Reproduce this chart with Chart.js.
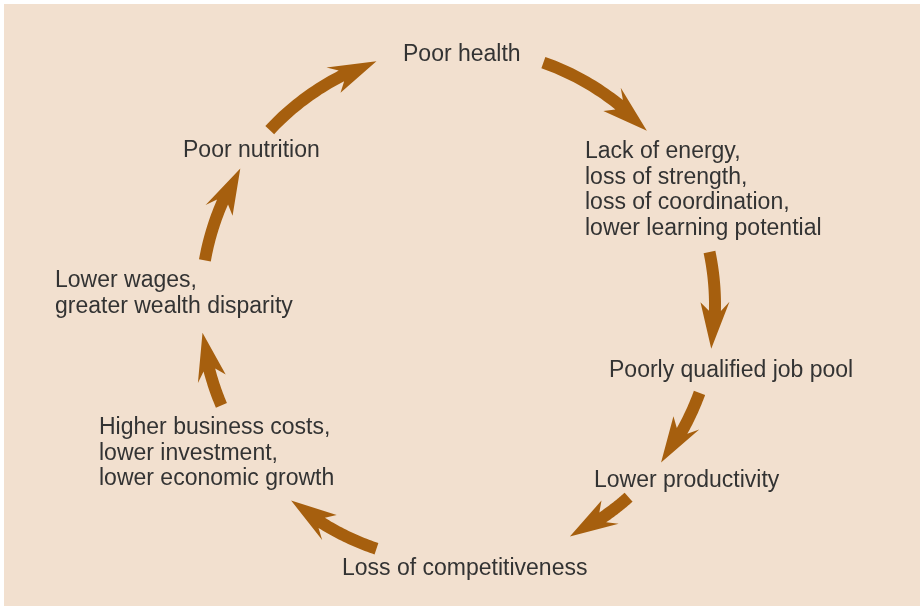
<!DOCTYPE html>
<html>
<head>
<meta charset="utf-8">
<script src="https://cdn.jsdelivr.net/npm/chart.js@4.4.1/dist/chart.umd.min.js"></script>
<style>
  html, body { margin: 0; padding: 0; background: #ffffff; overflow: hidden; }
  #wrap { width: 920px; height: 606px; }
  canvas { display: block; }
</style>
</head>
<body>
<div id="wrap"><canvas id="cycle" width="920" height="606"></canvas></div>
<script>
// steps of the cycle, one entry per label (lines)
const steps = [
    ['Poor health'],
    ['Lack of energy,', 'loss of strength,', 'loss of coordination,', 'lower learning potential'],
    ['Poorly qualified job pool'],
    ['Lower productivity'],
    ['Loss of competitiveness'],
    ['Higher business costs,', 'lower investment,', 'lower economic growth'],
    ['Lower wages,', 'greater wealth disparity'],
    ['Poor nutrition']
]
// label anchors (left edge, first baseline) in axis units
const labelX = [403, 585, 609, 594, 342, 99, 55, 183]
const labelY = [61, 158, 377, 487, 575, 434, 287, 157]

// arrows on the ring, start / end angle in degrees (0 = right, clockwise)
const arrowFrom = [-70.6, -11.9, 20.0, 48.4, 108.5, 157.0, 190.0, 222.9]
const arrowTo = [-42.7, 9.8, 37.8, 64.2, 130.5, 173.8, 212.1, 251.5]
const ringCenter = [458, 305]
const ringRadius = 257

const inkColor = '#a65f0e'
const textColor = '#333333'
const panelColor = '#f2e0cf'

const lineHeight = 25.5

function ringPoint(deg, r) {
    const a = deg * Math.PI / 180
    return { x: ringCenter[0] + r * Math.cos(a), y: ringCenter[1] + r * Math.sin(a) }
}

const cyclePlugin = {
    id: 'cycle',
    beforeDraw(chart) {
        const { ctx, scales: { x, y } } = chart
        ctx.save()
        ctx.fillStyle = '#ffffff'
        ctx.fillRect(0, 0, chart.width, chart.height)
        ctx.fillStyle = panelColor
        const x0 = x.getPixelForValue(4), y0 = y.getPixelForValue(4)
        ctx.fillRect(x0, y0, chart.width - x0, chart.height - y0)
        ctx.restore()
    },
    afterDatasetsDraw(chart) {
        const { ctx, scales: { x, y } } = chart
        const px = p => ({ x: x.getPixelForValue(p.x), y: y.getPixelForValue(p.y) })

        // arrows
        const half = 6, headLen = 47, headHalf = 14.5, notch = 9
        ctx.save()
        ctx.fillStyle = inkColor
        for (let i = 0; i < arrowFrom.length; i++) {
            const a0 = arrowFrom[i], a1 = arrowTo[i]
            const dir = Math.sign(a1 - a0)
            const degPerPx = 180 / (Math.PI * ringRadius)
            const aB = a1 - dir * headLen * degPerPx
            const aJ = a1 - dir * (headLen - notch) * degPerPx
            const tip = ringPoint(a1, ringRadius)
            const base = ringPoint(aB, ringRadius)
            const rad = aB * Math.PI / 180
            const nx = Math.cos(rad), ny = Math.sin(rad)

            const pts = []
            const n = 24
            for (let k = 0; k <= n; k++) pts.push(ringPoint(a0 + (aJ - a0) * k / n, ringRadius + half))
            pts.push({ x: base.x + nx * headHalf, y: base.y + ny * headHalf })
            pts.push(tip)
            pts.push({ x: base.x - nx * headHalf, y: base.y - ny * headHalf })
            for (let k = n; k >= 0; k--) pts.push(ringPoint(a0 + (aJ - a0) * k / n, ringRadius - half))

            ctx.beginPath()
            pts.forEach((p, k) => {
                const q = px(p)
                if (k == 0) ctx.moveTo(q.x, q.y)
                else ctx.lineTo(q.x, q.y)
            })
            ctx.closePath()
            ctx.fill()
        }
        ctx.restore()

        // labels
        const meta = chart.getDatasetMeta(0)
        ctx.save()
        ctx.fillStyle = textColor
        ctx.font = '23px "Liberation Sans", Arial, sans-serif'
        ctx.textAlign = 'left'
        ctx.textBaseline = 'alphabetic'
        meta.data.forEach((pt, i) => {
            steps[i].forEach((line, j) => {
                ctx.fillText(line, pt.x, pt.y + j * lineHeight)
            })
        })
        ctx.restore()
    }
}

new Chart(document.getElementById('cycle'), {
    type: 'scatter',
    data: {
        datasets: [{
            data: labelX.map((v, i) => ({ x: v, y: labelY[i] })),
            pointRadius: 0,
            pointHoverRadius: 0
        }]
    },
    options: {
        responsive: false,
        animation: false,
        events: [],
        layout: { padding: 0 },
        plugins: { legend: { display: false }, tooltip: { enabled: false } },
        scales: {
            x: { type: 'linear', min: 0, max: 920, display: false },
            y: { type: 'linear', min: 0, max: 606, reverse: true, display: false }
        }
    },
    plugins: [cyclePlugin]
})
</script>
</body>
</html>
